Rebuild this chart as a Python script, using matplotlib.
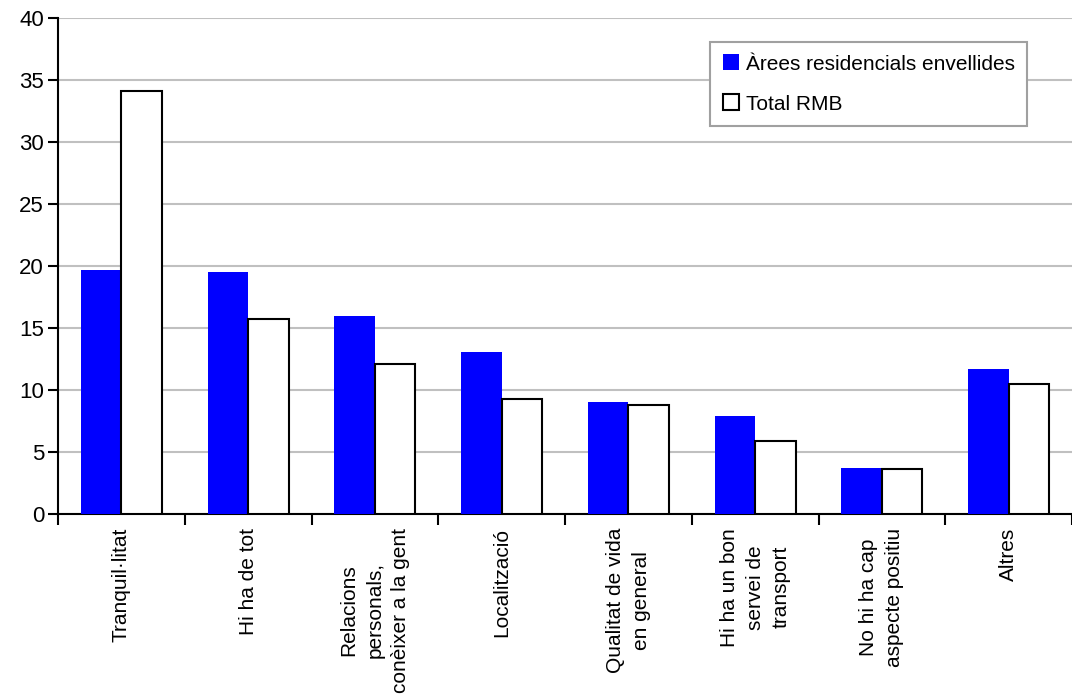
import matplotlib.pyplot as plt
import numpy as np

plt.rcParams['font.family'] = ['Liberation Sans', 'DejaVu Sans']

categories = ['Tranquil·litat', 'Hi ha de tot', 'Relacions\npersonals,\nconèixer a la gent',
              'Localització', 'Qualitat de vida\nen general', 'Hi ha un bon\nservei de\ntransport',
              'No hi ha cap\naspecte positiu', 'Altres']
arees = [19.7, 19.5, 16.0, 13.1, 9.0, 7.9, 3.7, 11.7]
total_rmb = [34.1, 15.7, 12.1, 9.3, 8.8, 5.9, 3.6, 10.5]

fig = plt.figure(figsize=(10.72, 7.00), dpi=100)
ax = fig.add_axes([58/1072, 1-514/700, 1-58/1072, 496/700])

x = np.arange(len(categories))
w = 0.32
ax.bar(x - w/2, arees, w, color='#0000ff', edgecolor='none', label='Àrees residencials envellides', zorder=3)
ax.bar(x + w/2, total_rmb, w, color='white', edgecolor='black', linewidth=1.5, label='Total RMB', zorder=3)

ax.set_ylim(0, 40)
ax.set_yticks(range(0, 41, 5))
ax.set_xlim(-0.5, 7.45)
ax.yaxis.grid(True, color='#c0c0c0', linewidth=1.5, zorder=0)

ax.set_xticks(x)
ax.set_xticklabels(categories, rotation=90, va='top', ha='center', multialignment='center',
                   fontsize=15, linespacing=1.45)
ax.set_xticks(np.arange(-0.5, 8, 1), minor=True)
ax.tick_params(axis='x', which='major', length=0, pad=10)
ax.tick_params(axis='x', which='minor', length=8, width=1.5, direction='out')
ax.tick_params(axis='y', length=7, width=1.5, labelsize=16, pad=3)

for s in ['top', 'right']:
    ax.spines[s].set_visible(False)
for s in ['left', 'bottom']:
    ax.spines[s].set_linewidth(1.5)

leg = ax.legend(loc='upper left', bbox_to_anchor=(0.633, 0.973), fontsize=15, fancybox=False,
                edgecolor='#a0a0a0', framealpha=1, handlelength=0.8, handleheight=0.8,
                handletextpad=0.3, labelspacing=1.0, borderpad=0.6)
leg.get_frame().set_linewidth(1.5)

fig.savefig('out.png', dpi=100)
